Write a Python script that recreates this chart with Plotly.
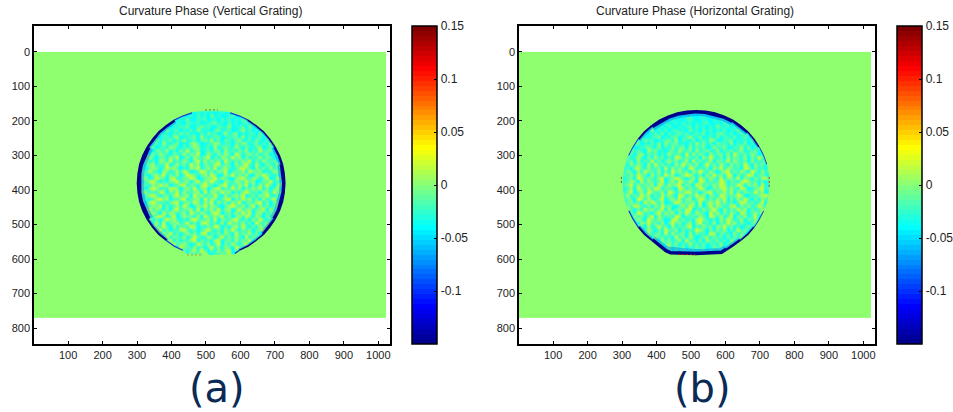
import plotly.graph_objects as go

titles = ["Curvature Phase (Vertical Grating)", "Curvature Phase (Horizontal Grating)"]
labels = ["(a)", "(b)"]
x_ticks = [100, 200, 300, 400, 500, 600, 700, 800, 900, 1000]
y_ticks = [0, 100, 200, 300, 400, 500, 600, 700, 800]
cbar_ticks = [-0.1, -0.05, 0, 0.05, 0.1, 0.15]
cbar_text = ["-0.1", "-0.05", "0", "0.05", "0.1", "0.15"]

# Value for each colour level used in the rows below
levels = {"3": -0.042, "4": -0.033, "5": -0.025, "6": -0.016, "7": -0.006, "8": 0.006, "9": 0.022}
background = 0.002

# Speckle inside the disc, one string per 10-unit row from y = 170 to y = 600
rows_a = [
    "4535445345435445345453534544354534453543544354",
    "3544354635346544536453745345634453564354534453",
    "4453645344563547345563453646354745346345543544",
    "3545346453745436546345674536453564735463453635",
    "5436354564354657345756436548345637453546435345",
    "3454563437456354638545367456345846354756345463",
    "4356345745364756453647563584673545637456343554",
    "3547456356478345673854567346574836456375464335",
    "4363547465736584563675846375468356475364573544",
    "3546456385467354786345687456375864573648354635",
    "4354763564875364687456384675486375468356473543",
    "3565437658463759468356477385647583649567354645",
    "4436574865376485769358647586397468574673586344",
    "3546853674869357486579364875968374658476354563",
    "4357463875946586379485768396475869374865743654",
    "3645784659368574968376589476385796485376486345",
    "4563687459786354879468593786458976385748563534",
    "3574965387468597346985748693576849768354876445",
    "4465378694758369874685973486957684386975463654",
    "3687459763894576983468795864378965874693587345",
    "4456897364789568379486975386487596834769465634",
    "3675486978356894764897536894758693748596378445",
    "4563798465987368594783689475968375869473685354",
    "3687564983769485678394875968364897563784968345",
    "4456897367489578396847596384786935748695473654",
    "3765468978365894678395874689375968473856947345",
    "4563897564789368597486938574869367589473685534",
    "3647586937468597348695874368975846938574693645",
    "4376958647389567849376859478369578467938564354",
    "3564786395874683975864798367485969378465873645",
    "4473658974693587648397586947368597486375964354",
    "3565847369785463897568493765896473859647385445",
    "4346758493678569473897564839675847396586473534",
    "3564387596384765983647598364785963748596354645",
    "4435678947365896473589647385964758367948563534",
    "3546437586947368574893657486395768473659473445",
    "4354765839476583796458736947586394758637456354",
    "3465347685937465893756489367485769384756344535",
    "4354568374695786349758469375864793567483565344",
    "3545346758364976584736957486397568473645345453",
    "4354563476589364785973648579364785634756354344",
    "3453546357468935748596374859367483564635453534",
    "4345354635746589367486937458637456345354634453",
    "3534453546357468579368475936745635463544353445",
]
rows_b = [
    "3443534453443534453544354345344534435443534453",
    "4354435345344543534453354443535443534345443534",
    "3453544354635345443565345435463544353454635445",
    "4345354563453644536453545634536453645345435354",
    "3546345436545364354563645354754635436545354435",
    "4354563547354635645374536463546354735463543645",
    "3645354635647364574635647354675463564735463534",
    "4356457345673546735685473564736547356463575443",
    "3546354756345674836547356487345673546374565354",
    "4354673546473856745364857463756483647354675345",
    "5465345675483647567384657348567436584735674534",
    "3547564386745367486573846754836574683657463645",
    "4456378465736485673948576385674839657486354754",
    "5364586374857364985764738596473857648375964635",
    "4567384659473685746839574683765948657384657354",
    "3648576384957463859674836957486385749638574645",
    "5463796485673948576398465738694875639847563754",
    "4576384976583749685738697485368947586397485645",
    "3658497638574968357986473859674983756984675354",
    "5467398576489367985468397586494875938647589445",
    "4568739486579368497586398475698376489857463754",
    "3679485768397586894763985748698475983768495345",
    "5468397586984765398476598347689586497356894654",
    "4579368497568398476985736894768593847659683545",
    "3684759683749586398475968376498576983465789654",
    "5476398586479368594783698475869374859637486345",
    "4568473969758346985768493786958473698574693754",
    "3675986473859674368597483695874689375846975445",
    "4586374968579384675893648579638475968374685354",
    "3657498563794868375964875396847586397468596445",
    "5463857469386574983657486397584693758469375354",
    "3675486397586348957463897546385974683758463645",
    "4546738695748369574683795648375968475367485354",
    "3564576384695738465793648573869574635746354645",
    "4453647586374965837465986374758364957463564354",
    "3545736485673948567384756398475638475367453645",
    "4354657364857463957486356847563746584635745354",
    "3463546475638574683956473865746385647354635435",
    "4354735463574685736485647356483657463547353544",
    "3453646354756384657364756347564735463564354453",
    "4345354635473564736546357463546354635354634534",
    "3534453546345635463546345463543564354534453443",
    "4343534435345344534353543453443534353443534334",
    "3434343534343534434343534344343343534343434343",
]

# Disc outline, clockwise from the top
edge_x_a = [515, 543, 571, 598, 623, 646, 668, 686, 702, 715, 724, 729, 731, 729, 724, 715, 702, 686, 668, 646, 623, 598, 585,
            515, 445, 432, 407, 384, 362, 344, 328, 315, 306, 301, 299, 301, 306, 315, 328, 344, 362, 384, 407, 432, 459, 487]
edge_y_a = [168, 170, 175, 184, 196, 212, 230, 251, 274, 299, 325, 352, 380, 408, 435, 461, 486, 509, 530, 548, 564, 576, 585,
            588, 585, 576, 564, 548, 530, 509, 486, 461, 435, 408, 380, 352, 325, 299, 274, 251, 230, 212, 196, 184, 175, 170]
edge_x_b = [515, 543, 570, 597, 622, 645, 666, 684, 699, 712, 721, 726, 728, 726, 721, 712, 699, 684, 666, 645, 622, 605, 590,
            515, 440, 425, 408, 385, 364, 346, 331, 318, 309, 304, 302, 304, 309, 318, 331, 346, 364, 385, 408, 433, 460, 487]
edge_y_b = [168, 170, 175, 184, 196, 212, 230, 251, 274, 299, 325, 352, 380, 408, 435, 461, 486, 509, 530, 548, 564, 576, 585,
            589, 587, 580, 567, 548, 530, 509, 486, 461, 435, 408, 380, 352, 325, 299, 274, 251, 230, 212, 196, 184, 175, 170]

# Dark rim: (first outline point, last outline point, thickness, colour)
NAVY, BLUE = "#00008c", "#1030d0"
rim_a = [(2, 4, 2, BLUE), (4, 8, 3, NAVY), (8, 10, 5, NAVY), (10, 16, 7, NAVY), (16, 18, 5, NAVY), (18, 21, 3, NAVY),
         (21, 22, 2, BLUE), (25, 27, 2, BLUE), (27, 30, 4, NAVY), (30, 38, 8, NAVY), (38, 42, 5, NAVY), (42, 44, 2, BLUE)]
rim_b = [(37, 39, 1.5, BLUE), (39, 41, 4, NAVY), (41, 50, 7, NAVY), (50, 52, 5, NAVY), (52, 54, 3, NAVY), (54, 56, 1.5, BLUE),
         (15, 17, 1.5, BLUE), (17, 19, 3, NAVY), (19, 21, 5, NAVY), (21, 27, 7, NAVY), (27, 29, 4, NAVY), (29, 31, 2, BLUE)]

# Small specks on the rim: x, y, colour, panel
speck_x = [[497, 535], [445, 490], [727, 727], [298, 298], [462, 512]]
speck_y = [[168, 168], [588, 588], [362, 391], [362, 385], [587, 587]]
speck_colour = ["#807820", "#a8a040", "#c84000", "#606040", "#b02020"]
speck_panel = [0, 0, 1, 1, 1]


def full_grid(rows):
    n_cols, n_rows, first_col, first_row, disc_cols = 102, 77, 29, 17, 46
    grid = [[background] * n_cols for _ in range(n_rows)]
    for i, row in enumerate(rows):
        for j, ch in enumerate(row.ljust(disc_cols, "5")[:disc_cols]):
            grid[first_row + i][first_col + j] = levels[ch]
    return grid


x_centres = [6 + 10 * i for i in range(102)]
y_centres = [5 + 10 * i for i in range(77)]


def jet(t):
    f = lambda c: max(0.0, min(1.0, 1.5 - abs(4 * t - c)))
    return "rgb(%d,%d,%d)" % (255 * f(3), 255 * f(2), 255 * f(1))


colorscale = []
for k in range(64):
    colorscale += [[k / 64, jet((k + 1) / 64)], [(k + 1) / 64, jet((k + 1) / 64)]]
bg_colour = jet((int((background + 0.15) / 0.3 * 64) + 1) / 64)

W, H = 953, 412
R = 60
PW = W - R
lefts = [34, 519]
cbars = [412, 897]
title_centres = [210, 694.5]
label_centres = [217, 702]
plot_w, top, bottom = 356, 26, 344
font = "Liberation Sans, Arial, sans-serif"

fig = go.Figure()
panels = [(rows_a, edge_x_a, edge_y_a, rim_a), (rows_b, edge_x_b, edge_y_b, rim_b)]
for n, (rows, ex, ey, rim) in enumerate(panels):
    s = "" if n == 0 else "2"
    xa, ya = "x" + s, "y" + s
    fig.add_trace(go.Heatmap(
        z=full_grid(rows), x=x_centres, y=y_centres, xaxis=xa, yaxis=ya,
        zmin=-0.15, zmax=0.15, zsmooth="best", colorscale=colorscale, hoverinfo="skip",
        colorbar=dict(
            x=cbars[n] / PW, xanchor="left", xpad=0, ypad=0, y=(H - bottom) / H, yanchor="bottom",
            len=(bottom - top) / H, lenmode="fraction", thickness=25, thicknessmode="pixels",
            outlinewidth=1.5, outlinecolor="black", ticks="inside", ticklen=3, tickcolor="black",
            tickvals=cbar_ticks, ticktext=cbar_text, tickfont=dict(family=font, size=12, color="#222"),
        ),
    ))
    m = len(ex)
    # rim and its soft blue band: the outer half of both is covered by the mask below
    for a, b, w, c in rim:
        idx = [i % m for i in range(a, b + 1)]
        fig.add_trace(go.Scatter(x=[ex[i] for i in idx], y=[ey[i] for i in idx], xaxis=xa, yaxis=ya,
                                 mode="lines", line=dict(color="rgba(0,110,255,0.4)", width=w * 1.7),
                                 hoverinfo="skip", showlegend=False))
    for a, b, w, c in rim:
        idx = [i % m for i in range(a, b + 1)]
        fig.add_trace(go.Scatter(x=[ex[i] for i in idx], y=[ey[i] for i in idx], xaxis=xa, yaxis=ya,
                                 mode="lines", line=dict(color=c, width=w),
                                 hoverinfo="skip", showlegend=False))
    # plain background round the disc: outer square, then the outline (keyhole)
    box = [270, 760, 140, 620]
    mask_x = [box[0], box[1], box[1], box[0], box[0], ex[0], ex[0]] + ex[::-1] + [ex[0], ex[0], box[0]]
    mask_y = [box[2], box[2], box[3], box[3], box[2], box[2], ey[0]] + ey[::-1] + [ey[0], box[2], box[2]]
    fig.add_trace(go.Scatter(x=mask_x, y=mask_y, xaxis=xa, yaxis=ya, mode="lines", fill="toself",
                             fillcolor=bg_colour, line=dict(width=0), hoverinfo="skip", showlegend=False))
    for sx, sy, sc, sp in zip(speck_x, speck_y, speck_colour, speck_panel):
        if sp == n:
            fig.add_trace(go.Scatter(x=sx, y=sy, xaxis=xa, yaxis=ya, mode="lines",
                                     line=dict(color=sc, width=1, dash="2px,2px"),
                                     hoverinfo="skip", showlegend=False))
    axis = dict(showline=True, linecolor="black", linewidth=1.5, mirror="ticks", ticks="inside",
                ticklen=3, tickcolor="black", showgrid=False, zeroline=False,
                tickfont=dict(family=font, size=11, color="#222"))
    fig.update_layout({
        "xaxis" + s: dict(axis, domain=[lefts[n] / PW, (lefts[n] + plot_w) / PW], range=[1, 1034],
                          tickvals=x_ticks, anchor=ya),
        "yaxis" + s: dict(axis, domain=[1 - bottom / H, 1 - top / H], range=[846, -75],
                          tickvals=y_ticks, anchor=xa),
    })
    fig.add_annotation(text=titles[n], xref="paper", yref="paper", x=title_centres[n] / PW,
                       xanchor="center", y=1 - 11 / H, showarrow=False, yanchor="middle",
                       font=dict(family=font, size=12, color="#222"))
    fig.add_annotation(text=labels[n], xref="paper", yref="paper", x=label_centres[n] / PW,
                       xanchor="center", y=1 - 388 / H, showarrow=False, yanchor="middle",
                       font=dict(family="DejaVu Sans, Verdana, sans-serif", size=40, color="#0b2a55"))

fig.update_layout(width=W, height=H, autosize=False, margin=dict(l=0, r=R, t=0, b=0, autoexpand=False),
                  paper_bgcolor="white", plot_bgcolor="white", showlegend=False)
fig.write_html("out.html", post_script="document.body.style.margin='0';", config={"displayModeBar": False})
